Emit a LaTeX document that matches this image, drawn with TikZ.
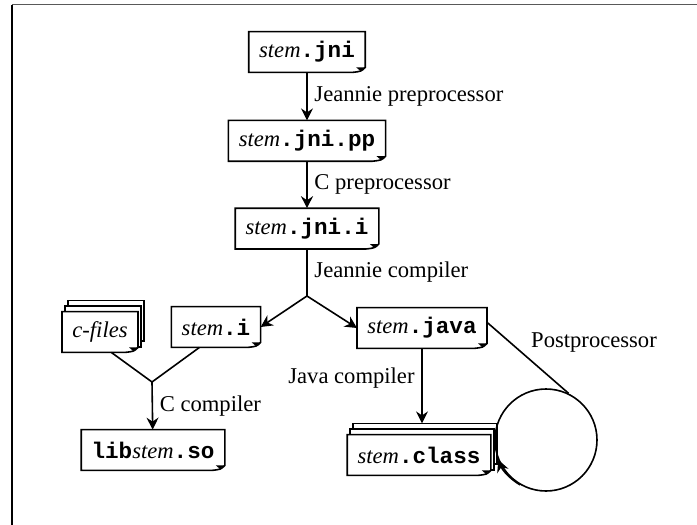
\documentclass[tikz,border=0pt]{standalone}
\usepackage{fontspec}
\setmainfont{Liberation Serif}
\setmonofont{Liberation Mono}
\usetikzlibrary{positioning, arrows.meta, backgrounds}
\tikzstyle{paper} = [rectangle, minimum height=20pt, inner xsep=5pt, inner ysep=2pt, text centered]
\tikzstyle{wire} = [line width=0.8pt]
\tikzstyle{arrow} = [wire, -{Stealth[length=6pt, width=6pt, inset=2pt]}]
\newcommand{\stem}{\textit{stem}}
\newcommand{\code}[1]{\texttt{\bfseries #1}}

\begin{document}
\begin{tikzpicture}[x=0.5pt, y=-0.5pt, node distance=24pt, font=\fontsize{11.3}{13.6}\selectfont]
    \useasboundingbox (0,0) rectangle (697,525);

        % Frame
        \draw[gray!70!black, line width=0.6pt] (12,4.5) -- (697,4.5);
        \draw[line width=0.6pt] (12,4.5) -- (12,525);

        % Nodes
        \node (jnifile) [paper] at (307,52) {\stem\code{.jni}};
        \node (ppfile) [paper, below=of jnifile] {\stem\code{.jni.pp}};
        \node (ifile) [paper, below=23.5pt of ppfile] {\stem\code{.jni.i}};
        \coordinate (split) at (307,296);
        \node (cifile) [paper] at (216,327) {\stem\code{.i}};
        \node (javafile) [paper] at (422,328) {\stem\code{.java}};
        \node (cfiles) [paper] at (100,332) {\textit{c-files}};
        \coordinate (join) at (152,382);
        \node (libfile) [paper] at (153,450) {\code{lib}\stem\code{.so}};
        \node (classfile) [paper] at (419,455) {\stem\code{.class}};
        \coordinate (classtop) at ([yshift=5.6pt]classfile.north);
        \node (post) [circle, draw, wire, minimum size=51pt, inner sep=0pt] at (546,440) {};

        % Paper outlines
        \begin{scope}[on background layer]
            \foreach \n in {cfiles, classfile}
                \foreach \k in {2,1}
                    \draw[wire, fill=white] ([xshift=\k*1.5pt, yshift=\k*2.8pt]\n.south west) rectangle ([xshift=\k*1.5pt, yshift=\k*2.8pt]\n.north east);
            \foreach \n in {jnifile, ppfile, ifile, cifile, javafile, cfiles, libfile, classfile} {
                \draw[wire, fill=white] (\n.north west) -- (\n.north east) -- ([yshift=2.5pt]\n.south east)
                    .. controls ([xshift=-2pt, yshift=0.5pt]\n.south east) .. ([xshift=-6.5pt]\n.south east) -- (\n.south west) -- cycle;
                \fill ([xshift=-4.5pt, yshift=2.5pt]\n.south east) -- ([yshift=2.5pt]\n.south east) -- ([xshift=-2.5pt, yshift=0.8pt]\n.south east) -- cycle;
            }
        \end{scope}

        % Arrows
        \draw [arrow] (jnifile) -- (ppfile) node[midway, right] {Jeannie preprocessor};
        \draw [arrow] (ppfile) -- (ifile) node[midway, right] {C preprocessor};
        \draw [wire] (ifile) -- (split) node[midway, right] {Jeannie compiler};
        \draw [arrow] (split) -- (cifile.east);
        \draw [arrow] (split) -- (javafile.west);
        \draw [wire] (cfiles.-61) -- (join);
        \draw [wire] (cifile.-129) -- (join);
        \draw [arrow] (join) -- (libfile) node[midway, right] {C compiler};
        \draw [arrow] (javafile) -- (javafile |- classtop) node[pos=0.4, left] {Java compiler};
        \draw [wire] (javafile.5) -- (post.64) node[pos=0.45, right, yshift=6pt] {Postprocessor};
        \draw [arrow] (post.240) arc[start angle=240, end angle=202, radius=25.5pt];

    \end{tikzpicture}
\end{document}
